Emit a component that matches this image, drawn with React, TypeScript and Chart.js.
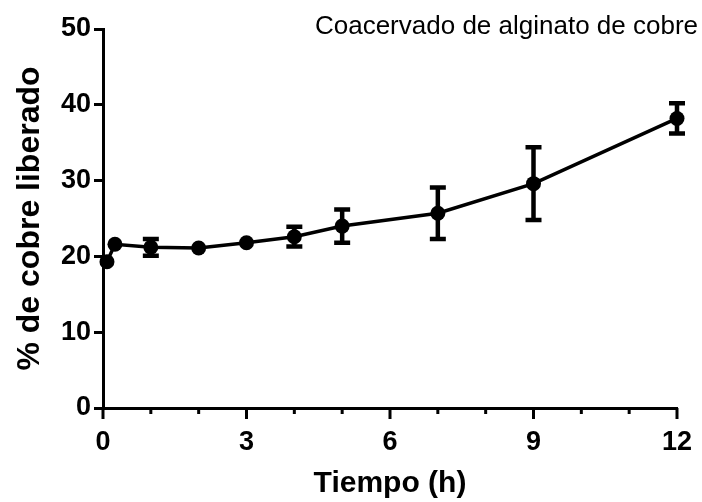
import React, { useEffect, useRef } from "react";
import { Chart, registerables } from "chart.js";

Chart.register(...registerables);

const timeHours = [0.083, 0.25, 1, 2, 3, 4, 5, 7, 9, 12];
const releasedPct = [19.3, 21.6, 21.2, 21.1, 21.8, 22.6, 24.0, 25.7, 29.6, 38.2];
const errorPct = [0, 0, 1.1, 0, 0, 1.3, 2.2, 3.4, 4.8, 2.0];
const yTicks = [0, 10, 20, 30, 40, 50];
const xLabelTicks = [0, 3, 6, 9, 12];
const titleText = "Coacervado de alginato de cobre";
const xTitle = "Tiempo (h)";
const yTitle = "% de cobre liberado";

const FONT = "'Liberation Sans', Arial, Helvetica, sans-serif";

const errorBarPlugin = {
  id: "errorBars",
  beforeDatasetsDraw(chart: any) {
    const ctx = chart.ctx;
    const xs = chart.scales.x;
    const ys = chart.scales.y;
    ctx.save();
    ctx.strokeStyle = "#000";
    ctx.lineWidth = 4.5;
    ctx.lineCap = "butt";
    timeHours.forEach((t, i) => {
      const e = errorPct[i];
      if (!e) return;
      const px = xs.getPixelForValue(t);
      const top = ys.getPixelForValue(releasedPct[i] + e);
      const bot = ys.getPixelForValue(releasedPct[i] - e);
      ctx.beginPath();
      ctx.moveTo(px, top);
      ctx.lineTo(px, bot);
      ctx.moveTo(px - 8, top);
      ctx.lineTo(px + 8, top);
      ctx.moveTo(px - 8, bot);
      ctx.lineTo(px + 8, bot);
      ctx.stroke();
    });
    ctx.restore();
  },
};

const xTickPlugin = {
  id: "xTicks",
  afterDraw(chart: any) {
    const ctx = chart.ctx;
    const xs = chart.scales.x;
    const bottom = chart.chartArea.bottom;
    ctx.save();
    ctx.strokeStyle = "#000";
    ctx.lineWidth = 3;
    for (let v = 0; v <= 12; v++) {
      const px = xs.getPixelForValue(v);
      const len = xLabelTicks.includes(v) ? 11 : 6;
      ctx.beginPath();
      ctx.moveTo(px, bottom);
      ctx.lineTo(px, bottom + len);
      ctx.stroke();
    }
    ctx.fillStyle = "#000";
    ctx.font = `26px ${FONT}`;
    ctx.textAlign = "right";
    ctx.textBaseline = "middle";
    ctx.fillText(titleText, 698, 27);
    ctx.restore();
  },
};

export default function App() {
  const ref = useRef<HTMLCanvasElement>(null);
  useEffect(() => {
    document.body.style.margin = "0";
    const chart = new Chart(ref.current!, {
      type: "line",
      data: {
        datasets: [
          {
            data: timeHours.map((t, i) => ({ x: t, y: releasedPct[i] })),
            borderColor: "#000",
            backgroundColor: "#000",
            borderWidth: 3.5,
            pointRadius: 7.5,
            pointBackgroundColor: "#000",
            pointBorderWidth: 0,
            tension: 0,
            clip: false as any,
          },
        ],
      },
      options: {
        animation: false,
        responsive: false,
        layout: { padding: { left: 0, right: 25, top: 29, bottom: 0 } },
        plugins: { legend: { display: false }, tooltip: { enabled: false } },
        scales: {
          x: {
            type: "linear",
            min: 0,
            max: 12,
            afterFit(scale: any) {
              scale.height = 94;
              scale.paddingLeft = 0;
              scale.paddingRight = 0;
            },
            afterBuildTicks(scale: any) {
              scale.ticks = xLabelTicks.map((v) => ({ value: v }));
            },
            grid: { display: true, drawOnChartArea: false, drawTicks: false, color: "rgba(0,0,0,0)" },
            border: { display: true, color: "#000", width: 3 },
            ticks: {
              color: "#000",
              padding: 18,
              maxRotation: 0,
              autoSkip: false,
              font: { family: FONT, size: 27, weight: "bold" },
            },
            title: {
              display: true,
              text: xTitle,
              color: "#000",
              padding: { top: 0, bottom: 0 },
              font: { family: FONT, size: 30, weight: "bold" },
            },
          },
          y: {
            type: "linear",
            min: 0,
            max: 50,
            afterFit(scale: any) {
              scale.width = 103;
              scale.paddingTop = 0;
              scale.paddingBottom = 0;
            },
            afterBuildTicks(scale: any) {
              scale.ticks = yTicks.map((v) => ({ value: v }));
            },
            grid: { drawOnChartArea: false, drawTicks: true, tickLength: 9, lineWidth: 3, color: "#000" },
            border: { display: true, color: "#000", width: 3 },
            ticks: {
              color: "#000",
              padding: 3,
              autoSkip: false,
              font: { family: FONT, size: 27, weight: "bold" },
            },
            title: {
              display: true,
              text: yTitle,
              color: "#000",
              padding: { top: 11, bottom: 0 },
              font: { family: FONT, size: 32, weight: "bold" },
            },
          },
        },
      },
      plugins: [errorBarPlugin, xTickPlugin],
    });
    return () => chart.destroy();
  }, []);
  return <canvas ref={ref} width={702} height={502} style={{ display: "block" }} />;
}
